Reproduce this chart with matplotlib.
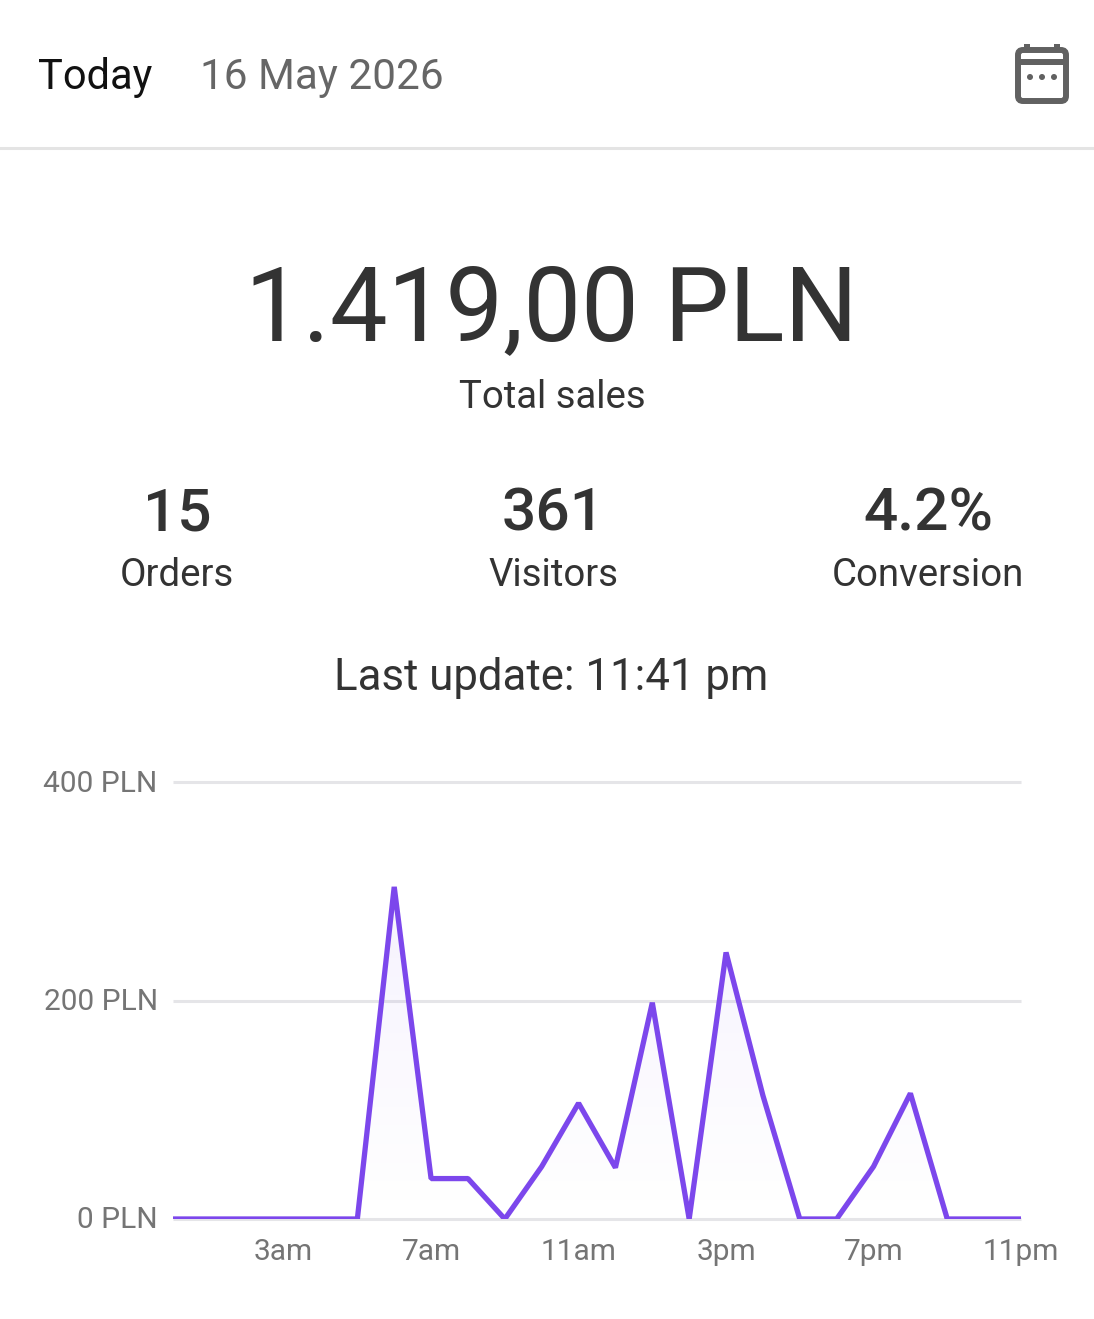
import numpy as np
import matplotlib
matplotlib.use('Agg')
import matplotlib.pyplot as plt
from matplotlib.patches import FancyBboxPatch, Rectangle, Circle
from matplotlib.transforms import ScaledTranslation

plt.rcParams['font.family'] = ['Roboto', 'DejaVu Sans']

W, H = 1094, 1319

# Chart values, one per hour of the day
hours = list(range(24))
sales = [0, 0, 0, 0, 0, 0, 304, 37, 37, 0, 48, 106, 47, 198, 0, 244, 113, 0, 0, 48, 115, 0, 0, 0]
y_ticks = [0, 200, 400]
y_labels = ['0 PLN', '200 PLN', '400 PLN']
x_ticks = [3, 7, 11, 15, 19, 23]
x_labels = ['3am', '7am', '11am', '3pm', '7pm', '11pm']

# Summary figures
stats = [('15', 'Orders', 177), ('361', 'Visitors', 553), ('4.2%', 'Conversion', 928)]

PURPLE = '#7c47ec'
DARK = '#333333'
GRID = '#e5e5e8'

fig = plt.figure(figsize=(W / 100, H / 100), dpi=100, facecolor='white')

# Background layer in pixel coordinates for the header and text
bg = fig.add_axes([0, 0, 1, 1])
bg.set_xlim(0, W)
bg.set_ylim(H, 0)
bg.axis('off')

bg.text(38, 77, 'Today', fontsize=30, color='#111111', va='center', ha='left')
bg.text(200, 77, '16 May 2026', fontsize=30.4, color='#666666', va='center', ha='left')
bg.plot([0, W], [148, 148], color='#e4e4e4', lw=2.2)

# Calendar icon
icon = '#616161'
bg.add_patch(FancyBboxPatch((1018, 50), 48, 51, boxstyle='round,pad=0,rounding_size=5',
                            fc='white', ec=icon, lw=4.3))
bg.add_patch(Rectangle((1016, 59), 52, 6, fc=icon, ec='none'))
bg.add_patch(Rectangle((1024, 44), 6, 8, fc=icon, ec='none'))
bg.add_patch(Rectangle((1054, 44), 6, 8, fc=icon, ec='none'))
for cx in [1030, 1042, 1054]:
    bg.add_patch(Circle((cx, 77), 3, fc=icon, ec='none'))

bg.text(551, 312, '1.419,00 PLN', fontsize=74, color=DARK, va='center', ha='center')
bg.text(552, 398, 'Total sales', fontsize=27.6, color=DARK, va='center', ha='center')
for value, label, cx in stats:
    bg.text(cx, 514, value, fontsize=43.5, color=DARK, va='center', ha='center', fontweight='medium')
    bg.text(cx, 576, label, fontsize=27.6, color=DARK, va='center', ha='center')
bg.text(551, 678, 'Last update: 11:41 pm', fontsize=31.5, color=DARK, va='center', ha='center')

# Chart axes lined up with the plot area
left, right, top, bottom = 173, 1021, 782, 1219
ax = fig.add_axes([left / W, 1 - bottom / H, (right - left) / W, (bottom - top) / H])
ax.patch.set_alpha(0)
ax.set_xlim(0, 23)
ax.set_ylim(0, 400)
for s in ax.spines.values():
    s.set_visible(False)

ax.set_yticks(y_ticks)
ax.set_yticklabels(y_labels)
ax.set_xticks(x_ticks)
ax.set_xticklabels(x_labels)
ax.tick_params(axis='y', length=0, pad=11, labelsize=21.5, labelcolor='#757575')
ax.tick_params(axis='x', length=0, pad=13.5, labelsize=21.5, labelcolor='#757575')
# y labels sit a touch above their grid lines
up = ScaledTranslation(0, 1.5 / 100, fig.dpi_scale_trans)
for t in ax.get_yticklabels():
    t.set_transform(t.get_transform() + up)
ax.grid(axis='y', color=GRID, lw=2.2, clip_on=False, solid_capstyle='butt')
ax.set_axisbelow(True)

# Faint gradient under the line
grad = np.linspace(0.07, 0.0, 256).reshape(-1, 1, 1)
rgba = np.concatenate([np.full((256, 1, 1), c) for c in matplotlib.colors.to_rgb(PURPLE)] + [grad], axis=2)
img = ax.imshow(rgba, extent=[0, 23, 0, 304], origin='upper', aspect='auto', zorder=1.5)
area = ax.fill_between(hours, sales, 0, color='none')
img.set_clip_path(area.get_paths()[0], transform=ax.transData)
ax.set_xlim(0, 23)
ax.set_ylim(0, 400)

ax.plot(hours, sales, color=PURPLE, lw=3.8, solid_joinstyle='bevel', solid_capstyle='butt', zorder=3)

fig.savefig('out.png', dpi=100)
